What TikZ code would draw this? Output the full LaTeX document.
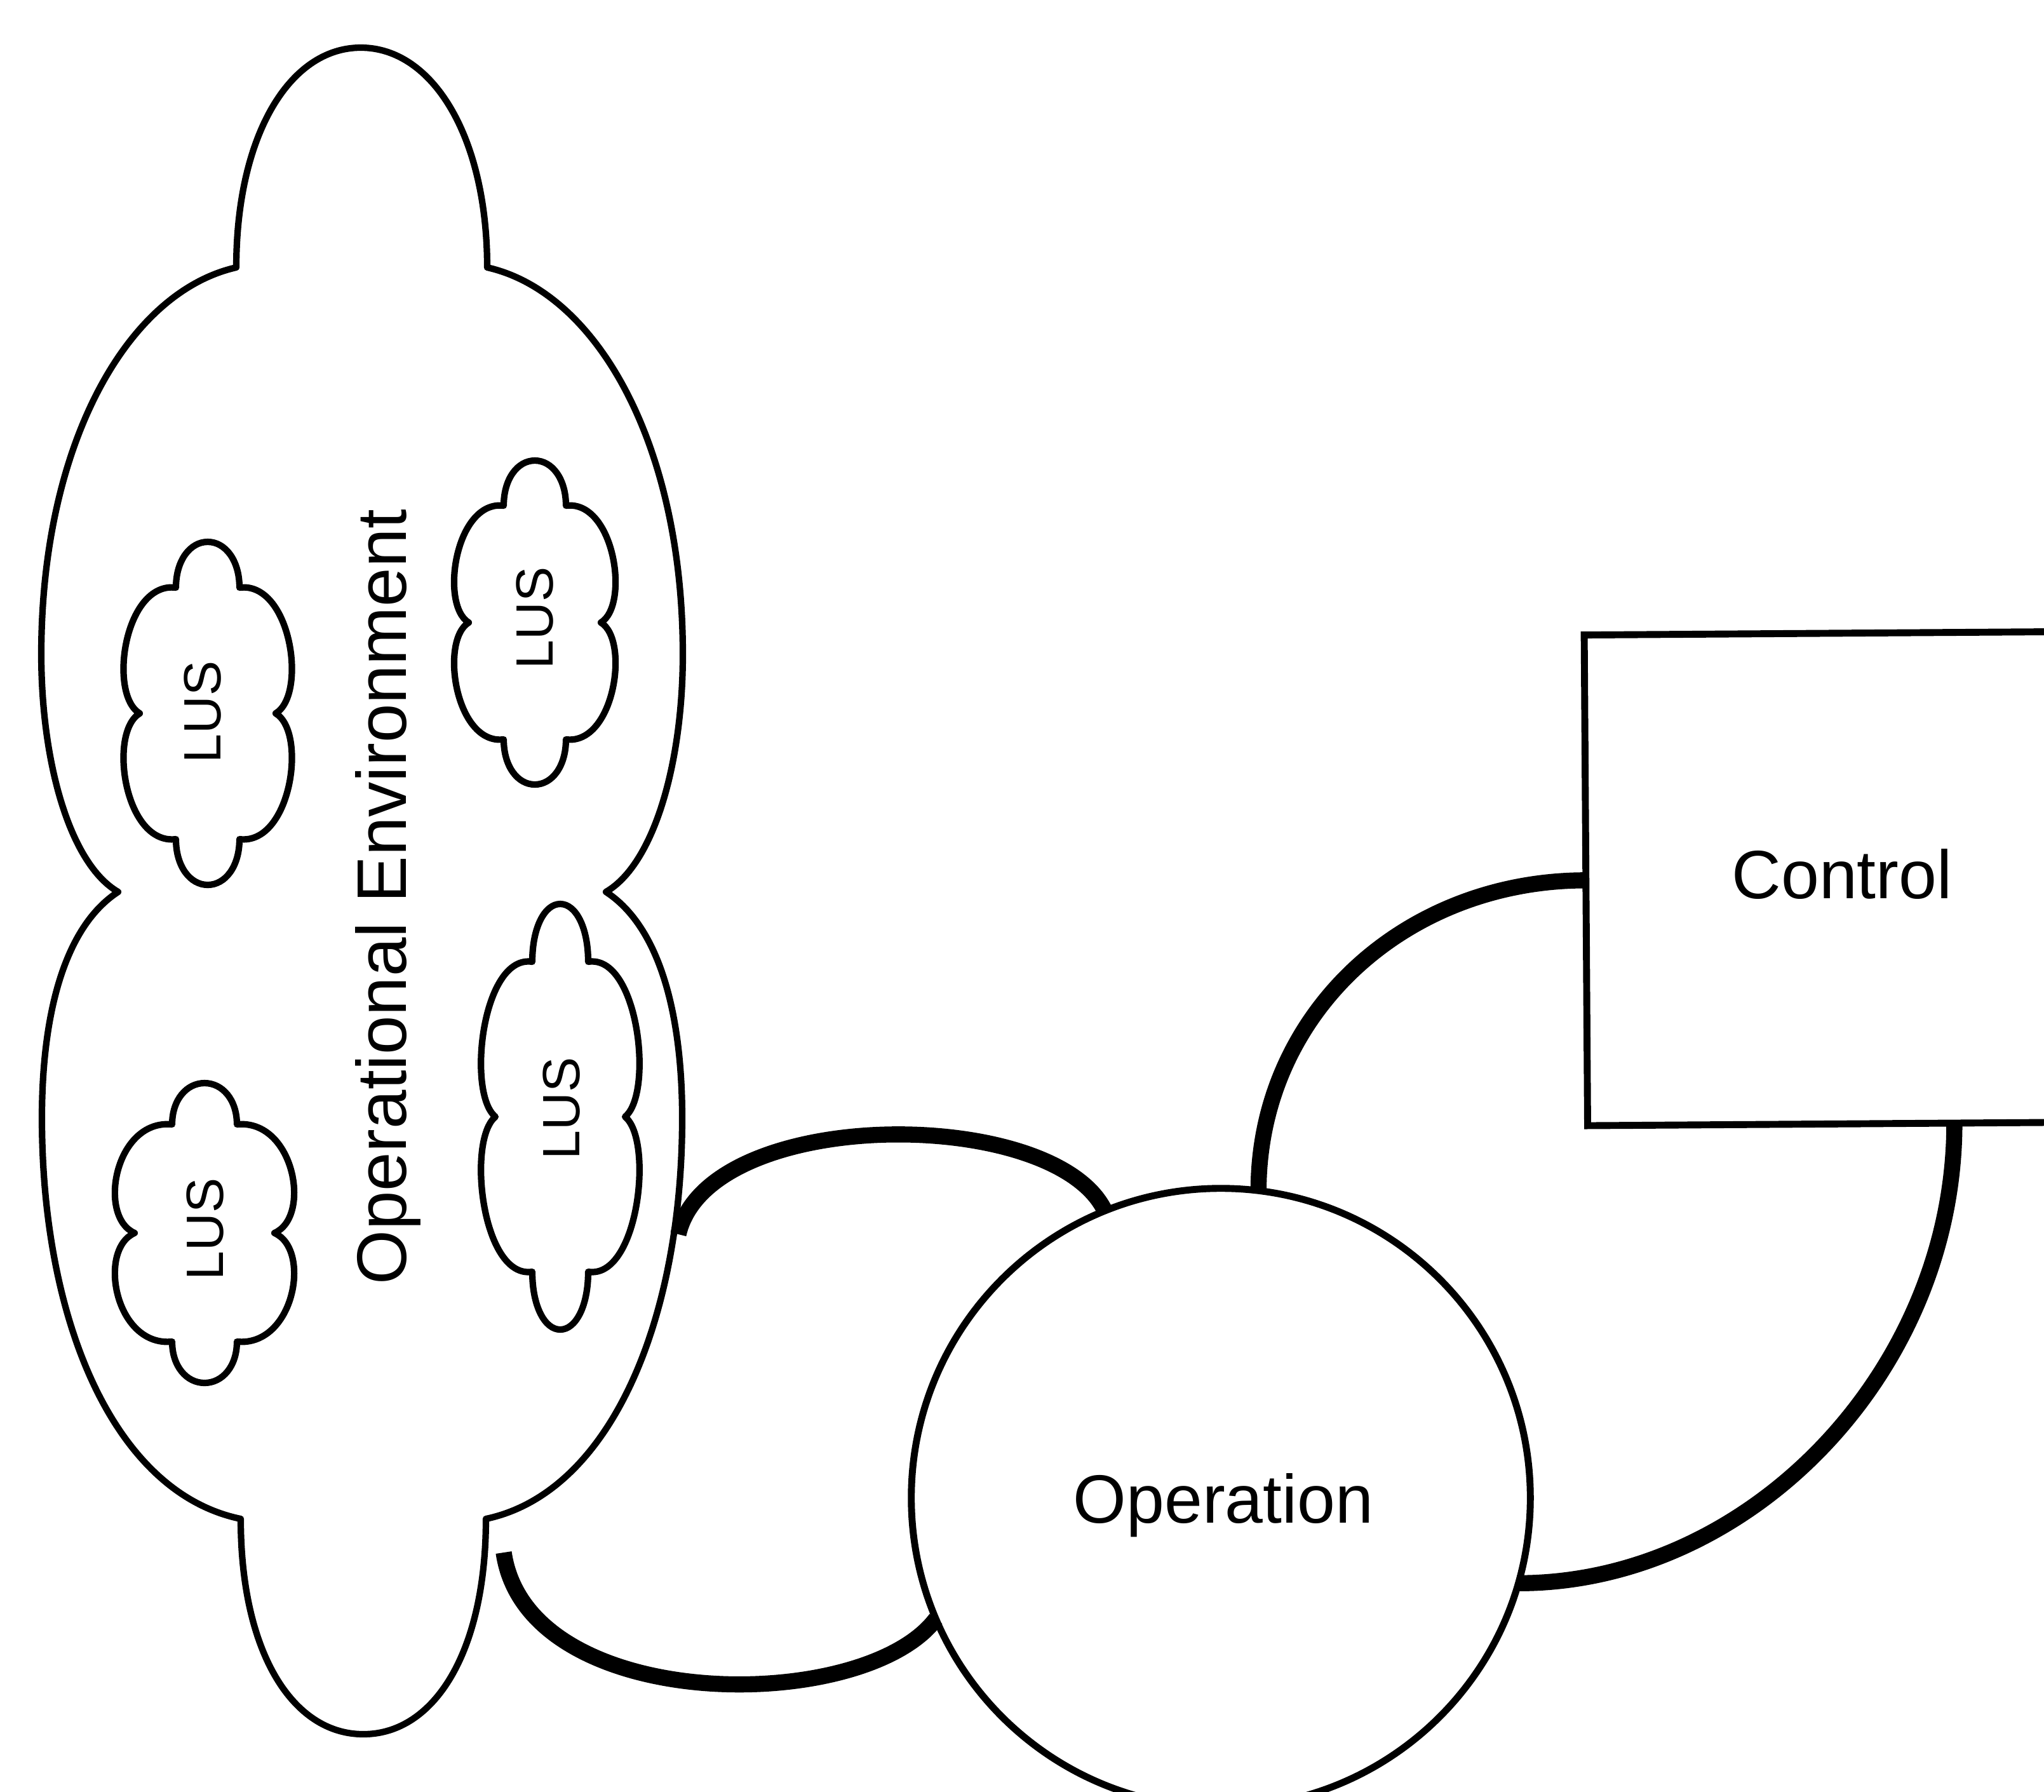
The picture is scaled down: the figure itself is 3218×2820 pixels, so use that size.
\documentclass[tikz,border=0pt]{standalone}
\usepackage{fontspec}
\setmainfont{Liberation Sans}
\usetikzlibrary{calc}

\begin{document}
\begin{tikzpicture}[x=0.01cm, y=-0.01cm,
  cloudline/.style={line width=2.9pt, line join=round},
  thinline/.style={line width=3.1pt},
  wire/.style={line width=7.2pt},
  bigtext/.style={font=\fontsize{30.6pt}{36pt}\selectfont, inner sep=0pt},
  lustext/.style={font=\fontsize{23.5pt}{28pt}\selectfont, inner sep=0pt, rotate=90, anchor=base},
  % small cloud: #1 half width, #2 half height, #3 lobe base offset, #4 lobe half width, #5 notch offset
  pics/lus/.style n args={5}{code={
    \draw[cloudline] ({-#4},{-#3})
      .. controls ({-#4},{-#3-0.6*(#2-#3)}) and ({-0.55*#4},{-#2}) .. (0,{-#2})
      .. controls ({0.55*#4},{-#2}) and ({#4},{-#3-0.6*(#2-#3)}) .. ({#4},{-#3})
      .. controls ({#1},{-1.05*#3}) and ({1.2*#1},{-0.15*#3}) .. ({#5},0)
      .. controls ({1.2*#1},{0.15*#3}) and ({#1},{1.05*#3}) .. ({#4},{#3})
      .. controls ({#4},{#3+0.6*(#2-#3)}) and ({0.55*#4},{#2}) .. (0,{#2})
      .. controls ({-0.55*#4},{#2}) and ({-#4},{#3+0.6*(#2-#3)}) .. ({-#4},{#3})
      .. controls ({-#1},{1.05*#3}) and ({-1.2*#1},{0.15*#3}) .. ({-#5},0)
      .. controls ({-1.2*#1},{-0.15*#3}) and ({-#1},{-1.05*#3}) .. ({-#4},{-#3})
      -- cycle;
  }}
]
\useasboundingbox (0,0) rectangle (3218,2820);
\clip (0,0) rectangle (3218,2820);

% operational environment: large cloud
\draw[cloudline] (372,421)
  .. controls (372,215) and (455,75) .. (568,75)
  .. controls (681,75) and (767,215) .. (767,421)
  .. controls (940,460) and (1075,700) .. (1075,1030)
  .. controls (1075,1200) and (1030,1360) .. (954,1404)
  .. controls (1040,1460) and (1074,1600) .. (1074,1760)
  .. controls (1074,2080) and (960,2350) .. (765,2391)
  .. controls (765,2600) and (684,2730) .. (572,2730)
  .. controls (460,2730) and (379,2600) .. (379,2391)
  .. controls (180,2350) and (66,2080) .. (66,1760)
  .. controls (66,1600) and (100,1460) .. (186,1404)
  .. controls (110,1360) and (65,1200) .. (65,1030)
  .. controls (65,700) and (200,460) .. (372,421) -- cycle;

\node[bigtext, font=\fontsize{31.4pt}{36pt}\selectfont, rotate=90, anchor=base]
  (envlabel) at (639,1412) {Operational Environment};

% LUS clouds
\pic at (327,1123) {lus={131}{270}{198}{50}{107}};
\node[lustext] (lus1) at (347,1121) {LUS};
\pic at (842,980) {lus={125}{255}{184}{49}{104}};
\node[lustext] (lus2) at (870,973) {LUS};
\pic at (322,1941) {lus={141}{236}{171}{51}{110}};
\node[lustext] (lus3) at (351,1935) {LUS};
\pic at (882,1758) {lus={123}{335}{244}{44}{102}};
\node[lustext] (lus4) at (912,1745) {LUS};

% operation and control
\node[thinline, draw, circle, minimum size=9.74cm, inner sep=0pt, outer sep=0pt] (op) at (1922,2358) {};
\node[bigtext, anchor=base] (optext) at (1926,2397) {Operation};

\node[thinline, draw, rectangle, minimum width=8.06cm, minimum height=7.72cm,
      inner sep=0pt, outer sep=0pt, rotate=0.4] (ctrl) at (2900,1383) {};
\node[bigtext, anchor=base] (ctrltext) at (2900,1414) {Control};

% connection points on the environment cloud
\coordinate (envA) at (1068,1943);
\coordinate (envB) at (793,2444);

% connectors
\draw[wire] (envA) .. controls (1115,1740) and (1660,1740) .. (op.112);
\draw[wire] (envB) .. controls (830,2700) and (1360,2700) .. (op.203);
\draw[wire] (op.83) .. controls +(0,-277) and +(-287,0) .. (ctrl.west);
\draw[wire] ($(ctrl.south west)!0.716!(ctrl.south east)$)
  .. controls +(0,390) and +(365,0) .. (op.-16);
\end{tikzpicture}
\end{document}
